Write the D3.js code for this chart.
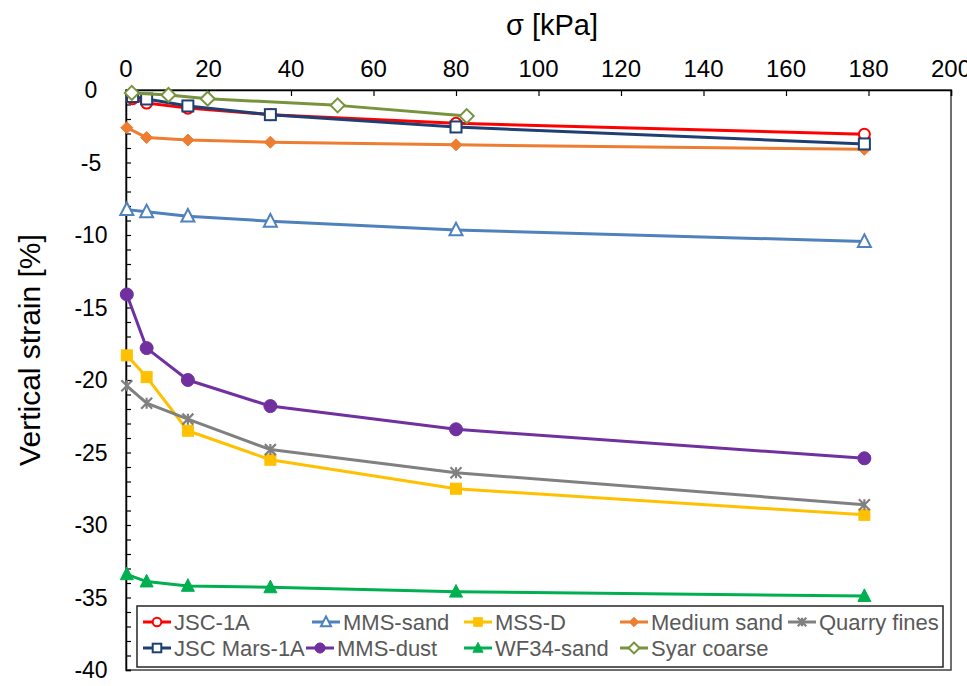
<!DOCTYPE html>
<html>
<head>
<meta charset="utf-8">
<script src="https://cdn.jsdelivr.net/npm/d3@7"></script>
<style>
  html, body { margin: 0; padding: 0; background: #fff; }
  svg { display: block; font-family: "Liberation Sans", Arial, sans-serif; }
</style>
</head>
<body>
<svg id="chart" width="967" height="686"></svg>
<script>
// Applied stress [kPa] at each loading step
const sigmaMain = [0.2, 5, 15, 35, 80, 179];
const sigmaJSC = [1.6, 5, 15, 35, 80, 179];
const sigmaSyar = [1.4, 10.3, 19.8, 51.3, 82.6];

// Vertical strain [%] for each material
const jsc1a = [-0.6, -0.9, -1.25, -1.7, -2.3, -3.05];
const mmsSand = [-8.25, -8.4, -8.7, -9.05, -9.65, -10.45];
const mssD = [-18.3, -19.8, -23.5, -25.5, -27.5, -29.3];
const mediumSand = [-2.6, -3.28, -3.45, -3.6, -3.78, -4.09];
const quarryFines = [-20.4, -21.6, -22.7, -24.8, -26.4, -28.6];
const jscMars1a = [-0.45, -0.62, -1.1, -1.7, -2.55, -3.72];
const mmsDust = [-14.1, -17.8, -20.0, -21.8, -23.4, -25.4];
const wf34Sand = [-33.4, -33.9, -34.2, -34.3, -34.6, -34.9];
const syarCoarse = [-0.2, -0.34, -0.6, -1.06, -1.8];

const seriesNames = ["JSC-1A", "MMS-sand", "MSS-D", "Medium sand", "Quarry fines",
                     "JSC Mars-1A", "MMS-dust", "WF34-sand", "Syar coarse"];
const xTicks = [0, 20, 40, 60, 80, 100, 120, 140, 160, 180, 200];
const yTicks = [0, -5, -10, -15, -20, -25, -30, -35, -40];

const series = [
  { name: seriesNames[0], x: sigmaJSC,  y: jsc1a,       color: "#FF0000", marker: "circle",   hollow: true },
  { name: seriesNames[1], x: sigmaMain, y: mmsSand,     color: "#4F81BD", marker: "triangle", hollow: true },
  { name: seriesNames[2], x: sigmaMain, y: mssD,        color: "#FFC000", marker: "square",   hollow: false },
  { name: seriesNames[3], x: sigmaMain, y: mediumSand,  color: "#ED7D31", marker: "diamond",  hollow: false },
  { name: seriesNames[4], x: sigmaMain, y: quarryFines, color: "#808080", marker: "star",     hollow: false },
  { name: seriesNames[5], x: sigmaJSC,  y: jscMars1a,   color: "#1F3F73", marker: "square",   hollow: true },
  { name: seriesNames[6], x: sigmaMain, y: mmsDust,     color: "#7030A0", marker: "circle",   hollow: false },
  { name: seriesNames[7], x: sigmaMain, y: wf34Sand,    color: "#00B050", marker: "triangle", hollow: false },
  { name: seriesNames[8], x: sigmaSyar, y: syarCoarse,  color: "#77933C", marker: "diamond",  hollow: true }
];

const svg = d3.select("#chart");
const plotLeft = 126, plotRight = 951, plotTop = 90, plotBottom = 670;

const x = d3.scaleLinear().domain([0, 200]).range([plotLeft, plotRight]);
const y = d3.scaleLinear().domain([0, -40]).range([plotTop, plotBottom]);

// plot-area frame
svg.append("rect")
  .attr("x", plotLeft).attr("y", plotTop)
  .attr("width", plotRight - plotLeft).attr("height", plotBottom - plotTop)
  .attr("fill", "none").attr("stroke", "#404040").attr("stroke-width", 1.5);

// top x axis, ticks pointing into the plot
const xAxis = svg.append("g").attr("transform", `translate(0,${plotTop})`)
  .call(d3.axisBottom(x).tickValues(xTicks).tickSize(6).tickFormat(""));
xAxis.select(".domain").attr("stroke", "#000").attr("stroke-width", 1.5);
xAxis.selectAll(".tick line").attr("stroke", "#000").attr("stroke-width", 1.2);

svg.append("g").selectAll("text").data(xTicks).join("text")
  .attr("x", d => x(d)).attr("y", 77)
  .attr("text-anchor", "middle")
  .attr("font-size", 24).attr("fill", "#000")
  .text(d => d);

// left y axis: major every 5, minor every 1, ticks pointing inward
const yAxis = svg.append("g").attr("transform", `translate(${plotLeft},0)`)
  .call(d3.axisRight(y).tickValues(d3.range(0, -41, -1)).tickSize(5).tickFormat(""));
yAxis.select(".domain").attr("stroke", "#000").attr("stroke-width", 1.5);
yAxis.selectAll(".tick line").attr("stroke", "#000").attr("stroke-width", 1.2);

svg.append("g").selectAll("text").data(yTicks).join("text")
  .attr("x", 91).attr("y", d => y(d))
  .attr("dy", "0.36em")
  .attr("text-anchor", "middle")
  .attr("font-size", 23).attr("fill", "#000")
  .text(d => d);

// axis titles
svg.append("text")
  .attr("x", 552).attr("y", 35)
  .attr("text-anchor", "middle")
  .attr("font-size", 29).attr("fill", "#000")
  .text("σ [kPa]");

svg.append("text")
  .attr("transform", "translate(40,350) rotate(-90)")
  .attr("text-anchor", "middle")
  .attr("font-size", 30).attr("fill", "#000")
  .text("Vertical strain [%]");

// marker drawing
function drawMarker(g, type, cx, cy, color, hollow, scale) {
  const fill = hollow ? "#fff" : color;
  const sw = hollow ? 2 : 1;
  if (type === "circle") {
    g.append("circle").attr("cx", cx).attr("cy", cy).attr("r", (hollow ? 5.5 : 6.5) * scale)
      .attr("fill", fill).attr("stroke", color).attr("stroke-width", sw);
  } else if (type === "square") {
    const s = 11 * scale;
    g.append("rect").attr("x", cx - s / 2).attr("y", cy - s / 2).attr("width", s).attr("height", s)
      .attr("fill", fill).attr("stroke", color).attr("stroke-width", sw);
  } else if (type === "triangle") {
    const h = 12 * scale, w = 13 * scale;
    g.append("path")
      .attr("d", `M${cx},${cy - h * 0.6}L${cx + w / 2},${cy + h * 0.45}L${cx - w / 2},${cy + h * 0.45}Z`)
      .attr("fill", fill).attr("stroke", color).attr("stroke-width", sw).attr("stroke-linejoin", "miter");
  } else if (type === "diamond") {
    const r = (hollow ? 7 : 6) * scale;
    g.append("path")
      .attr("d", `M${cx},${cy - r}L${cx + r},${cy}L${cx},${cy + r}L${cx - r},${cy}Z`)
      .attr("fill", fill).attr("stroke", color).attr("stroke-width", sw);
  } else if (type === "star") {
    const r = 5.5 * scale;
    g.append("path")
      .attr("d", `M${cx - r},${cy - r}L${cx + r},${cy + r}M${cx - r},${cy + r}L${cx + r},${cy - r}M${cx},${cy - r}L${cx},${cy + r}`)
      .attr("fill", "none").attr("stroke", color).attr("stroke-width", 2.2);
  }
}

const line = d3.line().x(d => x(d[0])).y(d => y(d[1]));
const plot = svg.append("g");
series.forEach(s => {
  const g = plot.append("g");
  const pts = s.x.map((v, i) => [v, s.y[i]]);
  g.append("path").attr("d", line(pts))
    .attr("fill", "none").attr("stroke", s.color).attr("stroke-width", 3)
    .attr("stroke-linejoin", "round");
  pts.forEach(p => drawMarker(g, s.marker, x(p[0]), y(p[1]), s.color, s.hollow, 1));
});

// legend
const legX = 137, legY = 606, legW = 806, legH = 61;
svg.append("rect").attr("x", legX).attr("y", legY).attr("width", legW).attr("height", legH)
  .attr("fill", "#fff").attr("stroke", "#262626").attr("stroke-width", 1.5);

const colStart = [[143, 312, 464, 620, 788], [143, 306, 464, 620, 788]];
const rowY = [622, 648];
series.forEach((s, i) => {
  const row = i < 5 ? 0 : 1;
  const col = i < 5 ? i : i - 5;
  const x0 = colStart[row][col], yy = rowY[row];
  const g = svg.append("g");
  g.append("line").attr("x1", x0).attr("x2", x0 + 28).attr("y1", yy).attr("y2", yy)
    .attr("stroke", s.color).attr("stroke-width", 3);
  drawMarker(g, s.marker, x0 + 14, yy, s.color, s.hollow, 0.78);
  g.append("text").attr("x", x0 + 31).attr("y", yy).attr("dy", "0.36em")
    .attr("font-size", 22).attr("fill", "#595959").text(s.name);
});
</script>
</body>
</html>
